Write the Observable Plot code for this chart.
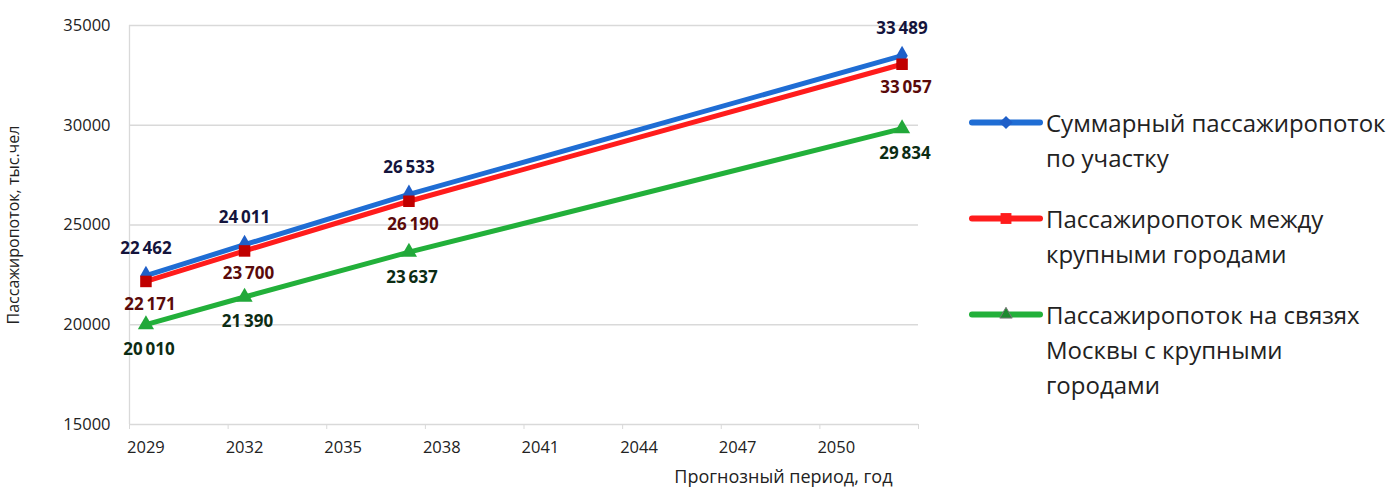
<!DOCTYPE html>
<html><head><meta charset="utf-8">
<script src="https://cdn.jsdelivr.net/npm/d3@7"></script>
<script src="https://cdn.jsdelivr.net/npm/@observablehq/plot@0.6"></script>
<style>
body{margin:0;background:#fff;font-family:"Open Sans",sans-serif;}
#wrap{position:relative;width:1388px;height:495px;overflow:hidden;}
#chart{position:absolute;left:0;top:0;}
#legend{position:absolute;left:968px;top:0;width:420px;color:#222;font-size:24px;line-height:35px;}
.item{position:absolute;left:0;}
.item svg{position:absolute;left:0;}
.item .txt{position:absolute;left:78px;white-space:nowrap;}
</style></head>
<body><div id="wrap"><div id="chart"></div><div id="legend"></div></div>
<script>
const years = [2029, 2032, 2037, 2052];
const total = [22462, 24011, 26533, 33489];
const between = [22171, 23700, 26190, 33057];
const moscow = [20010, 21390, 23637, 29834];
const seriesNames = ["Суммарный пассажиропоток по участку", "Пассажиропоток между крупными городами", "Пассажиропоток на связях Москвы с крупными городами"];
const legendLines = [["Суммарный пассажиропоток", "по участку"], ["Пассажиропоток между", "крупными городами"], ["Пассажиропоток на связях", "Москвы с крупными", "городами"]];
const yTicks = [15000, 20000, 25000, 30000, 35000];
const xLabelTicks = [2029, 2032, 2035, 2038, 2041, 2044, 2047, 2050];
const xTickMarks = [2028.5, 2031.5, 2034.5, 2037.5, 2040.5, 2043.5, 2046.5, 2049.5, 2052.5];
const yTitle = "Пассажиропоток, тыс.чел";
const xTitle = "Прогнозный период, год";

const colors = ["#1f6dd4", "#ff1c1c", "#22b03a"];
const markFill = ["#1f5fc8", "#c00000", "#22a83a"];
const labelColors = ["#14143c", "#5a0a0a", "#0c2c14"];
const symbols = ["diamond", "square", "triangle"];
const dys = [-27, 23, 25];
const dxs = [0, 4, 3];
const values = [total, between, moscow];

const fmt = d3.formatLocale({decimal: ",", thousands: "\u2009", grouping: [3], currency: ["", ""]}).format(",");
const rows = values.flatMap((vals, s) => vals.map((v, i) => ({s, year: years[i], v, i})));

const marks = [
  Plot.gridY(yTicks, {stroke: "#d9d9d9", strokeOpacity: 1, strokeWidth: 1.3}),
  Plot.ruleX([2028.5], {stroke: "#d9d9d9", strokeWidth: 1.3}),
  Plot.axisY(yTicks, {tickSize: 0, tickPadding: 19, tickFormat: d => String(d), fontSize: 16.5, color: "#222", label: null}),
  Plot.axisX(xTickMarks, {tickSize: 5, tickFormat: () => "", stroke: "#d9d9d9", label: null}),
  Plot.axisX(xLabelTicks, {tickSize: 0, tickPadding: 17, tickFormat: d => String(d), fontSize: 16.5, color: "#222", label: null}),
  Plot.text([yTitle], {frameAnchor: "left", dx: -116, rotate: -90, textAnchor: "middle", lineAnchor: "middle", fontSize: 16, fill: "#222"}),
  Plot.text([xTitle], {frameAnchor: "bottom-right", dx: -26, dy: 53, textAnchor: "end", lineAnchor: "middle", fontSize: 18, fill: "#222"})
];
for (let s = 0; s < 3; s++) {
  const d = rows.filter(r => r.s === s);
  marks.push(Plot.line(d, {x: "year", y: "v", stroke: colors[s], strokeWidth: 5, strokeLinecap: "round"}));
}
for (let s = 0; s < 3; s++) {
  const d = rows.filter(r => r.s === s);
  marks.push(Plot.dot(d, {x: "year", y: "v", symbol: () => symbols[s], fill: markFill[s], stroke: "none", r: s === 1 ? 6.5 : 6}));
}
for (let s = 0; s < 3; s++) {
  const d = rows.filter(r => r.s === s);
  marks.push(Plot.text(d, {x: "year", y: "v", text: r => fmt(r.v), dy: dys[s], dx: dxs[s], fill: labelColors[s], fontSize: 17, fontWeight: "bold", lineAnchor: "middle"}));
}

const chart = Plot.plot({
  width: 940, height: 495,
  marginLeft: 129, marginRight: 22, marginTop: 25, marginBottom: 71,
  style: {fontFamily: "'Open Sans', sans-serif", background: "#fff"},
  x: {domain: [2028.5, 2052.5], axis: null},
  y: {domain: [15000, 35000], axis: null},
  symbol: {type: "identity"},
  marks
});
document.getElementById("chart").appendChild(chart);

const legendY = [122, 218, 314];
const leg = document.getElementById("legend");
seriesNames.forEach((name, s) => {
  const item = document.createElement("div");
  item.className = "item";
  item.style.top = (legendY[s] - 17) + "px";
  const sym = d3.symbol().type([d3.symbolDiamond2, d3.symbolSquare2, d3.symbolTriangle2][s]).size(s === 1 ? 150 : 110)();
  item.innerHTML = `<svg width="76" height="35" style="top:0"><line x1="4" x2="72" y1="17.5" y2="17.5" stroke="${colors[s]}" stroke-width="6" stroke-linecap="round"/><path d="${sym}" transform="translate(38,17.5)" fill="${[ "#1f5fc8", "#ff1c1c", "#1e8a30"][s]}" ${s===2?'stroke="#777" stroke-width="1"':''}/></svg>` +
    `<div class="txt" title="${name}">${legendLines[s].map(l => `<div>${l}</div>`).join("")}</div>`;
  leg.appendChild(item);
});
</script>
</body></html>
